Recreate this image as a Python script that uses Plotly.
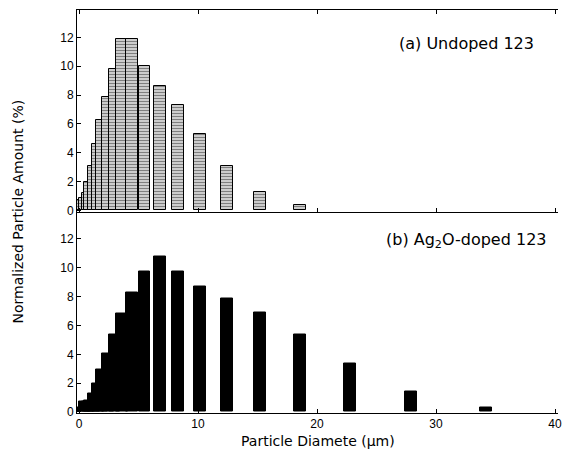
import plotly.graph_objects as go
from plotly.subplots import make_subplots

# Particle diameter bin centres (µm)
diameter = [0.30, 0.53, 0.72, 0.92, 1.28, 1.60, 1.96, 2.46, 2.98, 3.64, 4.48,
            5.50, 6.78, 8.32, 10.18, 12.45, 15.23, 18.60, 22.80, 27.90, 34.20]
# (a) Undoped 123, normalized amount (%)  (None = no bar)
undoped = [0.7, 0.9, 1.2, 2.0, 3.1, 4.6, 6.3, 7.9, 9.8, 11.9, 11.9,
           10.0, 8.6, 7.3, 5.3, 3.1, 1.3, 0.35, None, None, None]
# (b) Ag2O-doped 123, normalized amount (%)
doped = [0.3, 0.7, 0.75, 0.8, 1.3, 2.0, 2.95, 4.06, 5.4, 6.84, 8.27,
         9.77, 10.8, 9.77, 8.73, 7.87, 6.88, 5.4, 3.35, 1.45, 0.32]

y_ticks = [0, 2, 4, 6, 8, 10, 12]
x_ticks = [0, 10, 20, 30, 40]

TICKFONT = "Liberation Sans, Arial, sans-serif"
TEXTFONT = "DejaVu Sans, sans-serif"

fig = make_subplots(rows=2, cols=1, shared_xaxes=True, vertical_spacing=0)

fig.add_trace(go.Bar(
    x=diameter, y=undoped, width=1.0,
    marker=dict(color="white",
                line=dict(color="black", width=1),
                pattern=dict(shape="-", fgcolor="black", bgcolor="white",
                             size=3, solidity=0.6)),
    showlegend=False), row=1, col=1)

fig.add_trace(go.Bar(
    x=diameter, y=doped, width=1.0,
    marker=dict(color="black", line=dict(color="black", width=1)),
    showlegend=False), row=2, col=1)

axis_common = dict(showline=True, linecolor="black", linewidth=1,
                   ticks="inside", ticklen=4, tickcolor="black",
                   showgrid=False, zeroline=False,
                   tickfont=dict(family=TICKFONT, size=12, color="black"))

fig.update_xaxes(range=[-0.17, 40.25], tickvals=x_ticks, **axis_common)
fig.update_xaxes(mirror="ticks", showticklabels=False, row=1, col=1)
fig.update_xaxes(showticklabels=True, row=2, col=1)
fig.update_yaxes(range=[-0.07, 13.9], tickvals=y_ticks, **axis_common)
fig.update_yaxes(domain=[0.5, 1.0], row=1, col=1)
fig.update_yaxes(domain=[0.0, 0.5], row=2, col=1)

ann = dict(xref="paper", yref="paper", showarrow=False,
           xanchor="center", yanchor="middle")

# The page body has an 8px margin, so the figure is drawn 8px smaller
fig.update_layout(
    width=568, height=456,
    margin=dict(l=69, r=18, t=2, b=51),
    paper_bgcolor="white", plot_bgcolor="white",
    barmode="overlay", bargap=0,
    font=dict(family=TEXTFONT, color="black"),
    annotations=[
        dict(text="(a) Undoped 123", x=0.81, y=0.916,
             font=dict(family=TEXTFONT, size=16, color="black"), **ann),
        dict(text="(b) Ag<sub>2</sub>O-doped 123", x=0.81, y=0.429,
             font=dict(family=TEXTFONT, size=16, color="black"), **ann),
        dict(text="Normalized Particle Amount (%)", x=-0.1227, y=0.5,
             textangle=-90,
             font=dict(family=TEXTFONT, size=14, color="black"), **ann),
        dict(text="Particle Diamete (\u03bcm)", x=0.501, y=-0.07,
             font=dict(family=TEXTFONT, size=14, color="black"), **ann),
    ],
)

fig.write_html("out.html")
